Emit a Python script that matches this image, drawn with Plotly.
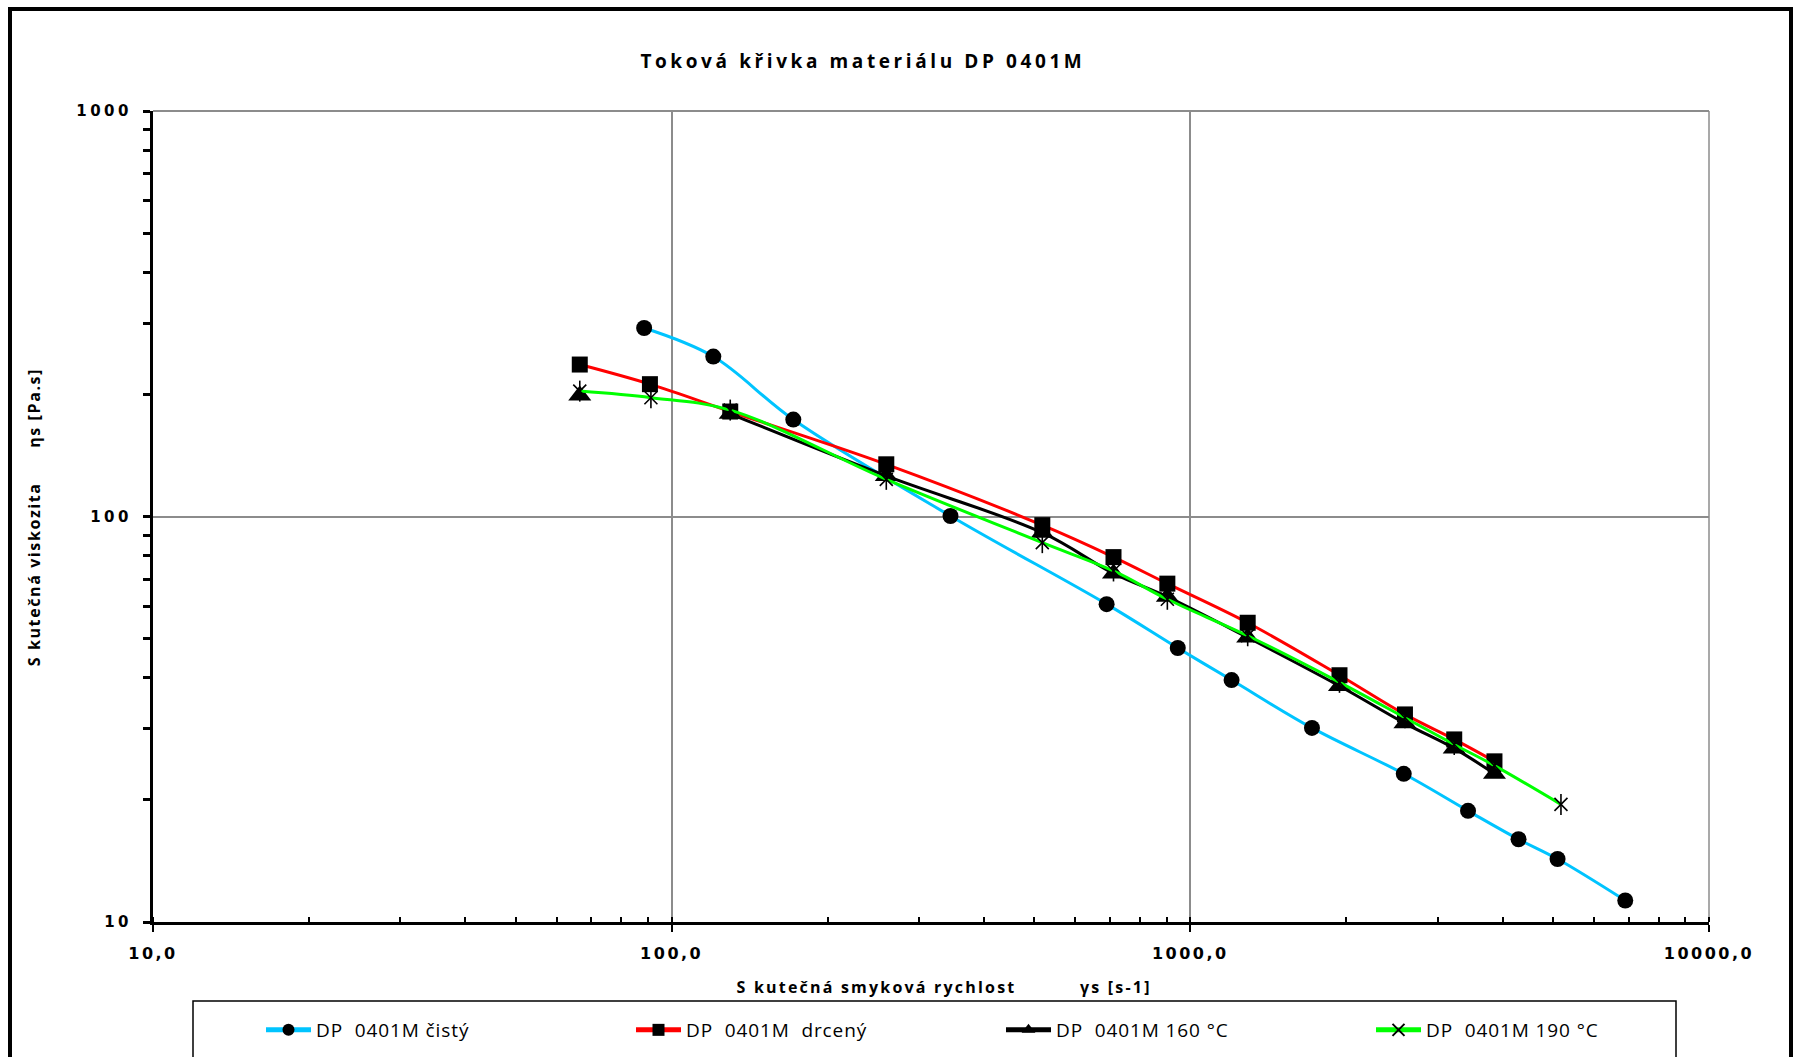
import plotly.graph_objects as go

# ---------------- data ----------------
cisty_x = [88.5, 120.3, 171.6, 344.8, 689.6, 945.7, 1201, 1716, 2579, 3431, 4293, 5105, 6895]
cisty_y = [291.6, 248, 173.4, 100.3, 60.8, 47.4, 39.5, 30.1, 23.2, 18.8, 16.0, 14.3, 11.3]

drceny_x = [66.5, 90.8, 129.7, 259.3, 518.3, 711, 903, 1290, 1939, 2593, 3227, 3858]
drceny_y = [237, 212, 181.5, 134.5, 95.2, 79.4, 68.3, 54.7, 40.6, 32.5, 28.2, 24.9]

t160_x = [66.5, 90.8, 129.7, 259.3, 518.3, 711, 903, 1290, 1939, 2593, 3227, 3858]
t160_y = [198.8, None, 179.2, 125.9, 91.2, 72.4, 63.4, 50.3, 38.2, 30.9, 26.8, 23.2]

t190_x = [66.5, 91.2, 129.7, 259.3, 518.3, 711, 903, 1290, 1939, 2593, 3227, 3858, 5183]
t190_y = [203.8, 196.3, 183.0, 123.5, 86.2, 73.4, 62.5, 50.8, 39.0, 31.9, 27.4, 24.3, 19.5]

series_names = ["DP  0401M čistý", "DP  0401M  drcený", "DP  0401M 160 °C", "DP  0401M 190 °C"]

x_tickvals = [10, 100, 1000, 10000]
x_ticktext = ["10,0", "100,0", "1000,0", "10000,0"]
y_tickvals = [10, 100, 1000]
y_ticktext = ["10", "100", "1000"]

title_text = "Toková křivka materiálu DP 0401M"
x_title = "S kutečná smyková rychlost          γs [s-1]"
y_title = "S kutečná viskozita      ηs [Pa.s]"

# ---------------- figure ----------------
W, H = 1800, 1057
L, R, T, B = 153, 91, 111, 135
pw, ph = W - L - R, H - T - B


def px(xpix):
    return (xpix - L) / pw


def py(ypix):
    return (H - B - ypix) / ph


fig = go.Figure()

fig.add_trace(go.Scatter(
    x=cisty_x, y=cisty_y, name=series_names[0], mode="lines+markers",
    line=dict(color="#00C4FF", width=3, shape="spline", smoothing=1),
    marker=dict(symbol="circle", size=16, color="black"),
))
fig.add_trace(go.Scatter(
    x=drceny_x, y=drceny_y, name=series_names[1], mode="lines+markers",
    line=dict(color="#FF0000", width=3, shape="spline", smoothing=1),
    marker=dict(symbol="square", size=16, color="black"),
))
fig.add_trace(go.Scatter(
    x=t160_x, y=t160_y, name=series_names[2], mode="lines+markers",
    line=dict(color="#000000", width=3, shape="spline", smoothing=1),
    marker=dict(symbol="triangle-up", size=20, color="black"),
    connectgaps=False,
))
fig.add_trace(go.Scatter(
    x=t190_x, y=t190_y, name=series_names[3], mode="lines+markers",
    line=dict(color="#00FF00", width=3, shape="spline", smoothing=1),
    marker=dict(symbol="x-thin-open", size=13, color="black",
                line=dict(color="black", width=1.6)),
    legendgroup="g190",
))
# vertical stroke of the six-armed star marker
fig.add_trace(go.Scatter(
    x=t190_x, y=t190_y, name=series_names[3], mode="markers",
    marker=dict(symbol="line-ns-open", size=15, color="black",
                line=dict(color="black", width=1.6)),
    showlegend=False, legendgroup="g190", hoverinfo="skip",
))

fig.update_xaxes(
    type="log", range=[1, 4],
    tickvals=x_tickvals, ticktext=x_ticktext,
    tickfont=dict(family="DejaVu Sans", size=16, color="black", weight="bold"),
    showline=True, linecolor="black", linewidth=3,
    ticks="outside", ticklen=7, tickwidth=2, tickcolor="black",
    ticklabelstandoff=8,
    showgrid=True, gridcolor="#8C8C8C", gridwidth=1.5,
    zeroline=False,
    minor=dict(dtick="D1", ticks="inside", ticklen=5, tickwidth=2,
               tickcolor="black", showgrid=False),
)
fig.update_yaxes(
    type="log", range=[1, 3],
    tickvals=y_tickvals, ticktext=y_ticktext,
    tickfont=dict(family="DejaVu Sans", size=15, color="black", weight="bold"),
    showline=True, linecolor="black", linewidth=3,
    ticks="outside", ticklen=7, tickwidth=2.5, tickcolor="black",
    ticklabelstandoff=8,
    showgrid=True, gridcolor="#8C8C8C", gridwidth=1.5,
    zeroline=False,
    minor=dict(dtick="D1", ticks="outside", ticklen=7, tickwidth=2.5,
               tickcolor="black", showgrid=False),
)

annots = [
    dict(text=title_text, x=px(863), y=py(61), xref="paper", yref="paper",
         showarrow=False, xanchor="center", yanchor="middle",
         font=dict(family="Open Sans", size=19, color="black", weight="bold")),
    dict(text=x_title, x=px(944), y=py(987), xref="paper", yref="paper",
         showarrow=False, xanchor="center", yanchor="middle",
         font=dict(family="Open Sans", size=16, color="black", weight="bold")),
    dict(text=y_title, x=px(34), y=py(517), xref="paper", yref="paper",
         showarrow=False, xanchor="center", yanchor="middle", textangle=-90,
         font=dict(family="Open Sans", size=16, color="black", weight="bold")),
]

shapes = [
    # grid lines at the far edges (top 1000 and right 10000)
    dict(type="line", xref="paper", yref="paper", x0=0, x1=1, y0=1, y1=1,
         line=dict(color="#8C8C8C", width=2), layer="below"),
    dict(type="line", xref="paper", yref="paper", x0=1, x1=1, y0=0, y1=1,
         line=dict(color="#8C8C8C", width=1.5), layer="below"),
    # outer chart border
    dict(type="rect", xref="paper", yref="paper",
         x0=px(10), x1=px(1791), y0=py(1080), y1=py(9),
         line=dict(color="black", width=4), fillcolor="rgba(0,0,0,0)", layer="below"),
    # legend box
    dict(type="rect", xref="paper", yref="paper",
         x0=px(193), x1=px(1676), y0=py(1080), y1=py(1001),
         line=dict(color="black", width=1.5), fillcolor="rgba(0,0,0,0)", layer="below"),
]

fig.update_layout(
    width=W, height=H,
    margin=dict(l=L, r=R, t=T, b=B, autoexpand=False),
    paper_bgcolor="white", plot_bgcolor="white",
    showlegend=True,
    legend=dict(orientation="h", x=px(261), y=py(1030), xanchor="left", yanchor="middle",
                bgcolor="rgba(0,0,0,0)", borderwidth=0,
                itemwidth=45,
                entrywidth=310, entrywidthmode="pixels",
                font=dict(family="Open Sans", size=19, color="black"),
                itemsizing="constant", traceorder="normal"),
    annotations=annots,
    shapes=shapes,
)

post = """
var s = document.createElement('style');
s.textContent = [
  '.ytick text { letter-spacing: 3.5px; }',
  '.xtick text { letter-spacing: 2.5px; }',
  'g.annotation[data-index="0"] text { letter-spacing: 3.6px; }',
  'g.annotation[data-index="1"] text { letter-spacing: 2.2px; }',
  'g.annotation[data-index="2"] text { letter-spacing: 1.6px; }',
  '.legendtext { letter-spacing: 0.9px; }'
].join('\\n');
document.head.appendChild(s);
"""

fig.write_html("out.html", post_script=post)
